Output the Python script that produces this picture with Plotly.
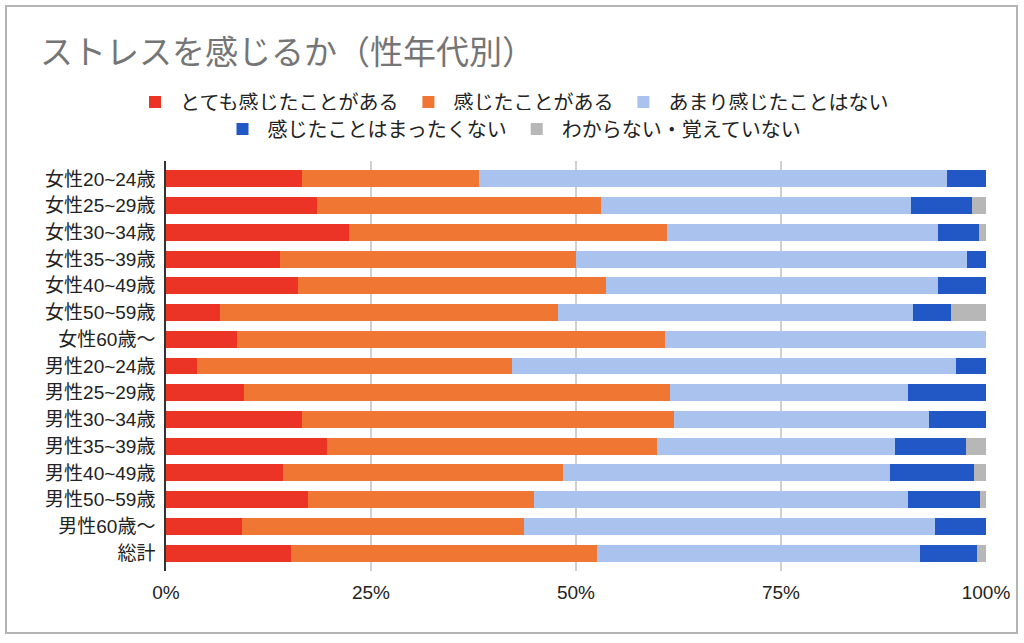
import plotly.graph_objects as go

# 性年代別の回答割合（%）
categories = [
    "女性20~24歳", "女性25~29歳", "女性30~34歳", "女性35~39歳", "女性40~49歳",
    "女性50~59歳", "女性60歳〜", "男性20~24歳", "男性25~29歳", "男性30~34歳",
    "男性35~39歳", "男性40~49歳", "男性50~59歳", "男性60歳〜", "総計",
]
very_often = [16.6, 18.4, 22.3, 13.9, 16.1, 6.6, 8.7, 3.8, 9.5, 16.6, 19.6, 14.3, 17.3, 9.3, 15.3]
sometimes = [21.6, 34.7, 38.8, 36.1, 37.6, 41.2, 52.2, 38.4, 52.0, 45.4, 40.3, 34.1, 27.6, 34.3, 37.2]
rarely = [57.1, 37.8, 33.1, 47.7, 40.5, 43.3, 39.1, 54.1, 29.0, 31.0, 29.0, 39.9, 45.6, 50.2, 39.4]
never = [4.7, 7.4, 5.0, 2.3, 5.8, 4.6, 0.0, 3.7, 9.5, 7.0, 8.6, 10.2, 8.8, 6.2, 7.0]
unknown = [0.0, 1.7, 0.8, 0.0, 0.0, 4.3, 0.0, 0.0, 0.0, 0.0, 2.5, 1.5, 0.7, 0.0, 1.1]

x_ticks = [0, 25, 50, 75, 100]
x_labels = ["0%", "25%", "50%", "75%", "100%"]

W, H = 1024, 643
ML, MR, MT, MB = 166, 38, 161, 72
FONT = "Liberation Sans, Noto Sans CJK JP, sans-serif"

series = [
    ("とても感じたことがある", very_often, "#EB3425", "legend"),
    ("感じたことがある", sometimes, "#EF7633", "legend"),
    ("あまり感じたことはない", rarely, "#A9C3EE", "legend"),
    ("感じたことはまったくない", never, "#2158C5", "legend2"),
    ("わからない・覚えていない", unknown, "#B7B7B7", "legend2"),
]

fig = go.Figure()
for name, vals, color, lg in series:
    fig.add_trace(go.Bar(
        y=categories, x=vals, name=name, orientation="h",
        marker=dict(color=color, line=dict(width=0)),
        legend=lg,
    ))

pw = W - ML - MR
ph = H - MT - MB
pad = 0.17  # 上下の余白（カテゴリ単位）

legend_style = dict(
    orientation="h", xref="container", x=0.5, xanchor="center",
    yref="container", yanchor="middle", itemwidth=40,
    font=dict(size=20, family="Noto Sans CJK JP", color="#222222"),
    traceorder="normal",
)

fig.update_layout(
    width=W, height=H,
    margin=dict(l=ML, r=MR, t=MT, b=MB),
    barmode="stack",
    bargap=0.365,
    paper_bgcolor="white",
    plot_bgcolor="white",
    font=dict(family=FONT, color="#222222"),
    title=dict(
        text="ストレスを感じるか（性年代別）",
        x=40 / W, xanchor="left", xref="container",
        y=1 - 52 / H, yanchor="middle", yref="container",
        font=dict(size=33, color="#757575", family="Noto Sans CJK JP"),
    ),
    legend=dict(legend_style, y=1 - 102 / H),
    legend2=dict(legend_style, y=1 - 129 / H),
    xaxis=dict(
        range=[0, 100], tickvals=x_ticks, ticktext=x_labels,
        showgrid=True, gridcolor="#d0d0d0", gridwidth=1.5,
        zeroline=False, showline=False,
        tickfont=dict(size=19, color="#222222"),
        ticklabelstandoff=8,
        fixedrange=True,
    ),
    yaxis=dict(
        range=[len(categories) - 0.5 + pad, -0.5 - pad],
        showline=True, linecolor="#333333", linewidth=1.5,
        showgrid=False, zeroline=False,
        tickfont=dict(size=19, color="#222222"),
        ticklabelstandoff=5,
        fixedrange=True,
    ),
    shapes=[dict(
        type="rect", xref="paper", yref="paper",
        x0=(6 - ML) / pw, x1=(1017 - ML) / pw,
        y0=(H - MB - 633) / ph, y1=(H - MB - 6) / ph,
        line=dict(color="#b4b4b4", width=2),
        fillcolor="rgba(0,0,0,0)", layer="below",
    )],
)

# ページ既定の余白を消して図を左上に合わせる
fig.write_html(
    "out.html",
    config={"displayModeBar": False},
    post_script="document.body.style.margin='0';",
)
